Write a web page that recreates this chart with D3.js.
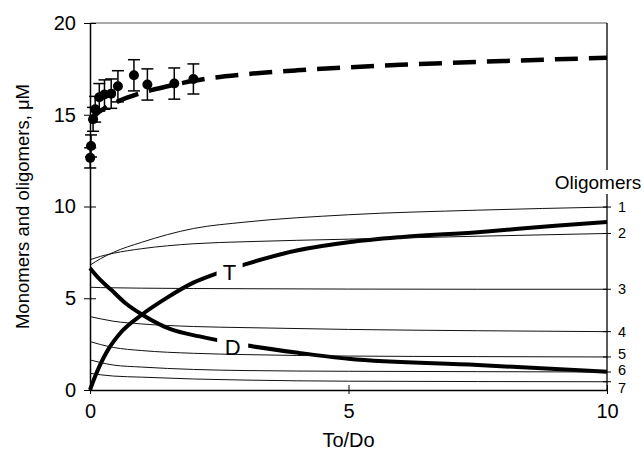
<!DOCTYPE html>
<html>
<head>
<meta charset="utf-8">
<script src="https://cdn.jsdelivr.net/npm/d3@7"></script>
<style>
  body { margin: 0; background: #fff; }
  text { font-family: Arial, "Liberation Sans", sans-serif; fill: #000; }
</style>
</head>
<body>
<div class="canvas"></div>
<script>
// measured data (total monomer, error bars)
const ptX = [0.004, 0.02, 0.06, 0.1, 0.18, 0.28, 0.41, 0.54, 0.85, 1.11, 1.63, 2.0]
const ptY = [12.65, 13.3, 14.75, 15.3, 15.95, 16.1, 16.15, 16.55, 17.15, 16.65, 16.7, 16.95]
const ptErr = [0.55, 0.6, 0.65, 0.7, 0.75, 0.8, 0.8, 0.85, 0.85, 0.85, 0.85, 0.82]

// model total (dashed)
const totX = [0, 0.15, 0.34, 0.54, 1, 1.5, 2, 3, 4, 5, 6, 7, 8, 9, 10]
const totVals = [14.6, 15.1, 15.45, 15.73, 16.2, 16.55, 16.85, 17.2, 17.42, 17.58, 17.72, 17.83, 17.93, 18.02, 18.1]

// T and D curves
const tX = [0, 0.1, 0.2, 0.35, 0.6, 1, 1.5, 2, 2.5, 3, 4, 5, 6, 7.5, 9, 10]
const tVals = [0, 0.75, 1.4, 2.2, 3.15, 4.1, 5.05, 5.85, 6.4, 6.85, 7.6, 8.05, 8.33, 8.6, 8.95, 9.15]
const dX = [0, 0.2, 0.41, 0.7, 1.02, 1.57, 2.12, 2.44, 3.05, 4.05, 5, 7.5, 10]
const dVals = [6.64, 6.0, 5.46, 4.7, 4.09, 3.3, 2.92, 2.73, 2.42, 2.02, 1.7, 1.36, 1.0]

// oligomer curves 1..7
const oligX = [0, 0.2, 0.45, 1, 2, 3, 5, 7.5, 10]
const olig1 = [6.8, 7.15, 7.5, 8.05, 8.8, 9.15, 9.55, 9.8, 9.97]
const olig2 = [7.1, 7.28, 7.45, 7.7, 7.97, 8.08, 8.22, 8.38, 8.53]
const olig3 = [5.6, 5.58, 5.57, 5.55, 5.53, 5.52, 5.5, 5.49, 5.49]
const olig4 = [4.0, 3.88, 3.75, 3.6, 3.46, 3.4, 3.3, 3.23, 3.18]
const olig5 = [2.64, 2.48, 2.32, 2.15, 2.0, 1.93, 1.85, 1.82, 1.8]
const olig6 = [1.64, 1.5, 1.36, 1.25, 1.12, 1.06, 1.02, 1.0, 0.98]
const olig7 = [0.91, 0.83, 0.76, 0.7, 0.6, 0.54, 0.48, 0.46, 0.45]
const oligNames = ['1', '2', '3', '4', '5', '6', '7']

const xTicks = [0, 5, 10]
const yTicks = [0, 5, 10, 15, 20]

// dimensions
const width = 644
const height = 458
const plot = { left: 90, right: 607, top: 23, bottom: 390 }

const svg = d3.select('.canvas')
  .append('svg')
  .attr('width', width)
  .attr('height', height)

const x = d3.scaleLinear().domain([0, 10]).range([plot.left, plot.right])
const y = d3.scaleLinear().domain([0, 20]).range([plot.bottom, plot.top])

const line = d3.line()
  .x(d => x(d[0]))
  .y(d => y(d[1]))
  .curve(d3.curveMonotoneX)

const zip = (xs, ys) => xs.map((v, i) => [v, ys[i]])

// frame top
svg.append('line')
  .attr('x1', plot.left).attr('x2', plot.right)
  .attr('y1', plot.top).attr('y2', plot.top)
  .attr('stroke', '#555').attr('stroke-width', 1)

// thick T and D lines
const thick = svg.append('g')
thick.selectAll('path')
  .data([zip(tX, tVals), zip(dX, dVals)])
  .enter().append('path')
    .attr('d', line)
    .attr('fill', 'none')
    .attr('stroke', '#000')
    .attr('stroke-width', 4)

// label gaps
const curveLabels = [
  { name: 'T', x: 2.7, y: 6.44, w: 26 },
  { name: 'D', x: 2.76, y: 2.36, w: 31 }
]
svg.selectAll('rect.gap')
  .data(curveLabels)
  .enter().append('rect')
    .attr('class', 'gap')
    .attr('x', d => x(d.x) - d.w / 2)
    .attr('y', d => y(d.y) - 12)
    .attr('width', d => d.w)
    .attr('height', 24)
    .attr('fill', '#fff')

// thin oligomer lines
const oligs = [olig1, olig2, olig3, olig4, olig5, olig6, olig7]
svg.append('g').selectAll('path')
  .data(oligs.map(o => zip(oligX, o)))
  .enter().append('path')
    .attr('d', line)
    .attr('fill', 'none')
    .attr('stroke', '#111')
    .attr('stroke-width', 1)

svg.selectAll('text.curve')
  .data(curveLabels)
  .enter().append('text')
    .attr('class', 'curve')
    .attr('x', d => x(d.x))
    .attr('y', d => y(d.y) + 8)
    .attr('text-anchor', 'middle')
    .attr('font-size', 22)
    .text(d => d.name)

// dashed total
svg.append('path')
  .attr('d', line(zip(totX, totVals)))
  .attr('fill', 'none')
  .attr('stroke', '#000')
  .attr('stroke-width', 4.5)
  .attr('stroke-dasharray', '23,11')

// error bars + points
const pts = ptX.map((v, i) => ({ x: v, y: ptY[i], e: ptErr[i] }))
const bars = svg.append('g').attr('stroke', '#000').attr('stroke-width', 1.5)
pts.forEach(p => {
  bars.append('line')
    .attr('x1', x(p.x)).attr('x2', x(p.x))
    .attr('y1', y(p.y - p.e)).attr('y2', y(p.y + p.e))
  ;[p.y - p.e, p.y + p.e].forEach(v => {
    bars.append('line')
      .attr('x1', x(p.x) - 6).attr('x2', x(p.x) + 6)
      .attr('y1', y(v)).attr('y2', y(v))
  })
})
svg.append('g').selectAll('circle')
  .data(pts)
  .enter().append('circle')
    .attr('cx', d => x(d.x))
    .attr('cy', d => y(d.y))
    .attr('r', 5)
    .attr('fill', '#000')

// axes
const xAxis = svg.append('g')
  .attr('transform', `translate(0, ${plot.bottom})`)
  .call(d3.axisBottom(x).tickValues(xTicks).tickSize(0).tickPadding(14).tickFormat(d3.format('d')))
xAxis.selectAll('.tick').append('line').attr('y1', -5).attr('y2', 4).attr('stroke', '#000')

const yAxis = svg.append('g')
  .attr('transform', `translate(${plot.left}, 0)`)
  .call(d3.axisLeft(y).tickValues(yTicks).tickSize(0).tickPadding(14).tickFormat(d3.format('d')))
yAxis.selectAll('.tick').append('line').attr('x1', -6).attr('x2', 6).attr('stroke', '#000')

;[xAxis, yAxis].forEach(a => {
  a.select('.domain').attr('stroke', '#000').attr('stroke-width', 1.5)
  a.selectAll('text').attr('font-size', 20).attr('font-family', 'Arial, "Liberation Sans", sans-serif').attr('fill', '#000')
})

// right oligomer axis
const rightAxis = svg.append('g')
rightAxis.append('line')
  .attr('x1', plot.right).attr('x2', plot.right)
  .attr('y1', plot.top).attr('y2', plot.bottom)
  .attr('stroke', '#000').attr('stroke-width', 1.3)
const ends = oligs.map((o, i) => ({ name: oligNames[i], v: o[o.length - 1] }))
rightAxis.selectAll('line.tk')
  .data(ends)
  .enter().append('line')
    .attr('class', 'tk')
    .attr('x1', plot.right - 4).attr('x2', plot.right + 4)
    .attr('y1', d => y(d.v)).attr('y2', d => y(d.v))
    .attr('stroke', '#000')
// 5, 6 and 7 sit nearly on top of each other, spread them a little
const nudge = { '5': -3, '6': -2, '7': 6 }
rightAxis.selectAll('text')
  .data(ends)
  .enter().append('text')
    .attr('x', plot.right + 11)
    .attr('y', d => y(d.v) + 5 + (nudge[d.name] || 0))
    .attr('font-size', 14.5)
    .text(d => d.name)

const oligTitle = svg.append('g')
oligTitle.append('rect')
  .attr('x', 553).attr('y', 170).attr('width', 91).attr('height', 24)
  .attr('fill', '#fff')
oligTitle.append('text')
  .attr('x', 598).attr('y', 189)
  .attr('text-anchor', 'middle')
  .attr('font-size', 19)
  .text('Oligomers')

// axis titles
svg.append('text')
  .attr('x', (plot.left + plot.right) / 2)
  .attr('y', 447)
  .attr('text-anchor', 'middle')
  .attr('font-size', 20)
  .text('To/Do')

svg.append('text')
  .attr('transform', `translate(29, ${(plot.top + plot.bottom) / 2}) rotate(-90)`)
  .attr('text-anchor', 'middle')
  .attr('font-size', 18.5)
  .text('Monomers and oligomers, μM')
</script>
</body>
</html>
